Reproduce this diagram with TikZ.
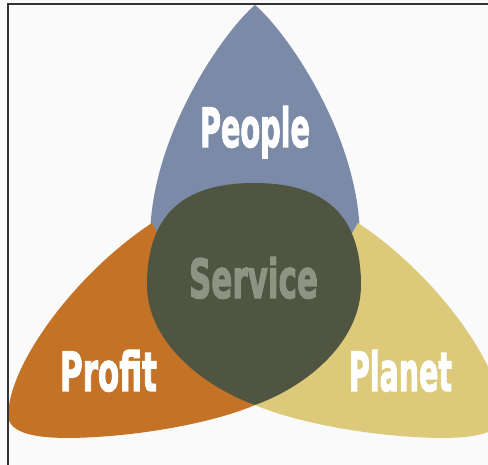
\documentclass[tikz,border=0pt]{standalone}
\usepackage{fontspec}
\usepackage{graphicx}
\setmainfont{DejaVu Sans}[BoldFeatures={FakeBold=2.5}]
\definecolor{peopleblue}{RGB}{122,138,167}
\definecolor{profitorange}{RGB}{196,114,38}
\definecolor{planetyellow}{RGB}{220,202,122}
\definecolor{servicedark}{RGB}{79,85,64}
\definecolor{servicegray}{RGB}{143,147,131}
\newcommand{\petalword}[2]{\resizebox{#1}{41pt}{\bfseries #2}}

\begin{document}
\begin{tikzpicture}[x=1pt,y=-1pt]
  \tikzset{word/.style={anchor=base,inner sep=0pt,text=white}}
  \useasboundingbox (0,0) rectangle (488,465);
  \fill[white!98!black] (0,0) rectangle (488,465);

  \begin{scope}
    \clip (0,0) rectangle (488,465);
    % top petal
    \fill[peopleblue] (255,5) .. controls (225,30) and (150,135) .. (150,240)
      -- (255,330) -- (360,240) .. controls (360,135) and (285,30) .. (255,5) -- cycle;
    % left petal
    \fill[profitorange] (152,223) .. controls (80,270) and (10,360) .. (8,415)
      .. controls (8,440) and (60,440) .. (110,436)
      .. controls (170,431) and (225,418) .. (255,405) -- cycle;
    % right petal
    \fill[planetyellow] (358,223) .. controls (430,270) and (500,360) .. (502,415)
      .. controls (502,440) and (450,440) .. (400,436)
      .. controls (340,431) and (285,418) .. (255,405) -- cycle;
    % middle
    \fill[servicedark] (255,405) .. controls (200,385) and (147,340) .. (147,285)
      .. controls (147,216) and (182,183) .. (254,183)
      .. controls (326,183) and (361,216) .. (361,285)
      .. controls (361,340) and (310,385) .. (255,405) -- cycle;
  \end{scope}

  \node[word] at(255,147)(people){\petalword{110pt}{People}};
  \node[word,text=servicegray] at(253.5,298)(service){\petalword{129pt}{Service}};
  \node[word] at(108.5,391)(profit){\petalword{97pt}{Profit}};
  \node[word] at(400.5,391)(planet){\petalword{103pt}{Planet}};

  \draw[line width=1.5pt,black!80] (8,465) -- (8,4) -- (488,4);
\end{tikzpicture}
\end{document}
